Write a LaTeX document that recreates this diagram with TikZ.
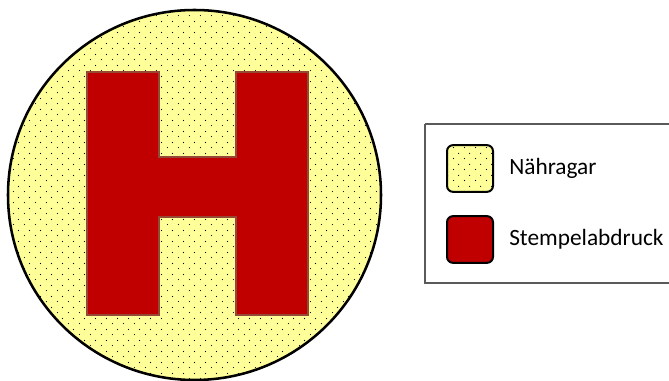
\documentclass[tikz,border=0pt]{standalone}
\usepackage{fontspec}
\setmainfont{Carlito}
\usetikzlibrary{positioning,patterns.meta}

\definecolor{agaryellow}{RGB}{255,255,153}
\definecolor{stampred}{RGB}{192,0,0}
\definecolor{stampedge}{RGB}{150,72,55}
\definecolor{legendgray}{RGB}{90,90,90}

\tikzdeclarepattern{
  name=agardots,
  type=uncolored,
  bounding box={(0,0) and (8.25pt,8.25pt)},
  tile size={(8.25pt,8.25pt)},
  code={
    \fill (2pt,2pt) circle (0.45pt);
    \fill (6.125pt,6.125pt) circle (0.45pt);
  }
}

\begin{document}
\begin{tikzpicture}[x=0.75pt,y=-0.75pt,node distance=11.25pt,
  agar/.style={preaction={fill=agaryellow},pattern=agardots,pattern color=black},
  swatch/.style={draw,line width=1.5pt,rounded corners=4.5pt,minimum width=34.5pt,minimum height=35pt,inner sep=0pt},
  legendlabel/.style={inner sep=0pt,font=\fontsize{17.5}{21}\selectfont}]
\useasboundingbox (0,0) rectangle (669,381);
% plate with agar
\draw[agar,line width=1.9pt] (194.5,195) ellipse [x radius=186.5,y radius=185];
% stamp print
\fill[stampred,draw=stampedge,line width=0.8pt]
  (87,72) -- (159,72) -- (159,157) -- (236,157) -- (236,72) -- (308,72)
  -- (308,315) -- (236,315) -- (236,217) -- (159,217) -- (159,315) -- (87,315) -- cycle;
% legend
\draw[legendgray,line width=0.8pt] (425,124) -- (672,124) (425,124) -- (425,283) -- (672,283);
\node[swatch,agar] (agarbox) at (470,168.5) {};
\node[swatch,fill=stampred] (stampbox) at (470,239.5) {};
\node[legendlabel,right=of agarbox] (agartext) {Nähragar};
\node[legendlabel,right=of stampbox] (stamptext) {Stempelabdruck};
\end{tikzpicture}
\end{document}
